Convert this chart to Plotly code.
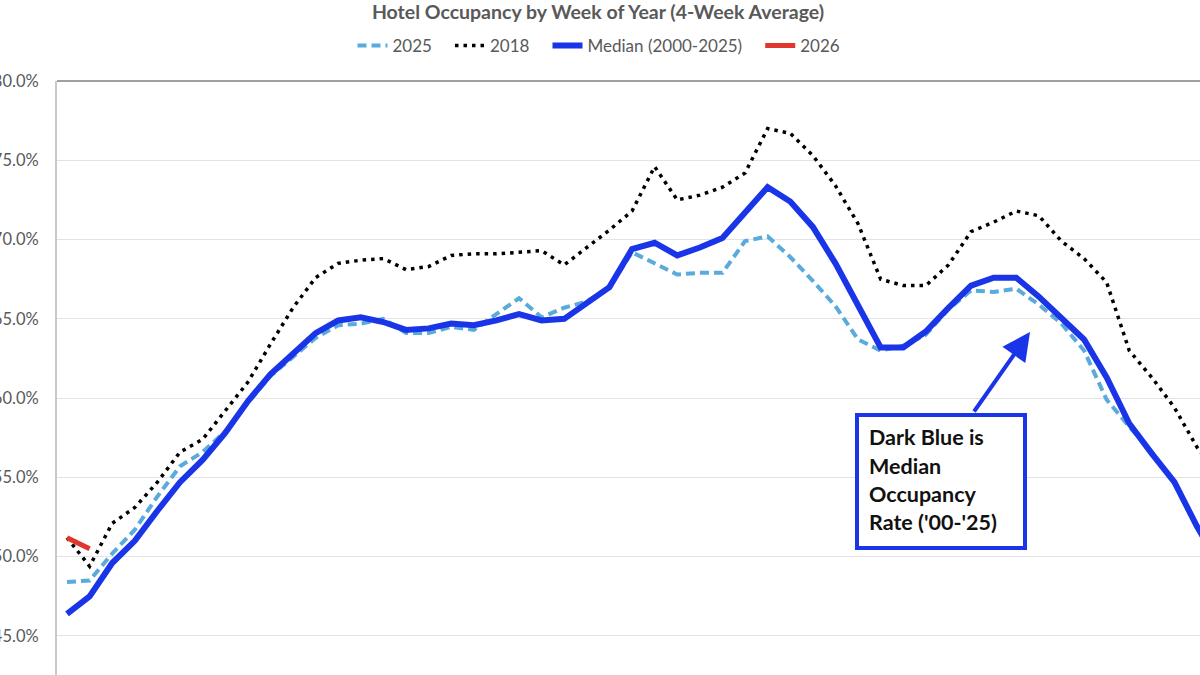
import plotly.graph_objects as go

weeks = list(range(1, 53))

occ_2025 = [48.4, 48.5, 50.2, 51.7, 53.8, 55.7, 56.6, 57.9, 59.7, 61.4,
            62.6, 63.8, 64.6, 64.7, 65.0, 64.1, 64.1, 64.5, 64.3, 65.3,
            66.3, 65.1, 65.7, 66.1, 67.0, 69.2, 68.5, 67.8, 67.9, 67.9,
            69.9, 70.2, 68.9, 67.4, 65.8, 63.7, 63.0, 63.3, 64.0, 65.6,
            66.8, 66.7, 66.9, 65.9, 64.7, 63.0, 59.9, 58.2, 56.6, 54.6,
            51.8, 49.4]

occ_2018 = [51.2, 49.4, 52.1, 53.1, 54.7, 56.6, 57.4, 59.2, 61.0, 63.4,
            65.7, 67.6, 68.5, 68.7, 68.8, 68.1, 68.3, 69.0, 69.1, 69.1,
            69.2, 69.3, 68.4, 69.5, 70.6, 71.8, 74.6, 72.5, 72.8, 73.3,
            74.2, 77.0, 76.7, 75.3, 73.4, 71.0, 67.5, 67.1, 67.1, 68.4,
            70.5, 71.1, 71.8, 71.5, 69.9, 68.8, 67.3, 63.0, 61.3, 59.4,
            56.9, 55.0]

occ_median = [46.4, 47.5, 49.6, 51.0, 52.9, 54.7, 56.1, 57.8, 59.8, 61.5,
              62.8, 64.1, 64.9, 65.1, 64.8, 64.3, 64.4, 64.7, 64.6, 64.9,
              65.3, 64.9, 65.0, 66.0, 67.0, 69.4, 69.8, 69.0, 69.5, 70.1,
              71.7, 73.3, 72.4, 70.8, 68.5, 65.9, 63.2, 63.2, 64.2, 65.7,
              67.1, 67.6, 67.6, 66.4, 65.1, 63.7, 61.3, 58.4, 56.5, 54.7,
              51.9, 49.5]

weeks_2026 = [1, 2]
occ_2026 = [51.2, 50.5]

y_ticks = [45, 50, 55, 60, 65, 70, 75, 80]

BLUE = "#1a35e8"
LIGHT = "#5aaadc"
RED = "#e0362c"
GRAY = "#595959"
FONT = "Lato"
PAD = "\u00a0\u00a0\u00a0"

fig = go.Figure()
fig.add_trace(go.Scatter(x=weeks, y=occ_2025, mode="lines", name="2025" + PAD,
                         line=dict(color=LIGHT, width=4, dash="9px,5px")))
fig.add_trace(go.Scatter(x=weeks, y=occ_2018, mode="lines", name="2018" + PAD,
                         line=dict(color="#000000", width=3.5, dash="3.5px,5px")))
fig.add_trace(go.Scatter(x=weeks, y=occ_median, mode="lines", name="Median (2000-2025)" + PAD,
                         line=dict(color=BLUE, width=6)))
fig.add_trace(go.Scatter(x=weeks_2026, y=occ_2026, mode="lines", name="2026",
                         line=dict(color=RED, width=5)))

W, H = 1200, 675
L, T = 57, 81

def px_x(p):
    return (p - L) / (W - L)

def px_y(p):
    return (H - p) / (H - T)

fig.update_layout(
    width=W, height=H,
    margin=dict(l=L, r=0, t=T, b=0, autoexpand=False),
    paper_bgcolor="white", plot_bgcolor="white",
    font=dict(family=FONT, color=GRAY),
    title=dict(text="<b>Hotel Occupancy by Week of Year (4-Week Average)</b>",
               x=598 / W, xref="container", xanchor="center",
               y=1 - 12 / H, yref="container", yanchor="middle",
               font=dict(size=19.5, color=GRAY, family=FONT)),
    legend=dict(orientation="h", x=599 / W, xref="container", xanchor="center",
                y=1 - 46 / H, yref="container", yanchor="middle",
                font=dict(size=17, color=GRAY, family=FONT),
                bgcolor="rgba(0,0,0,0)", itemwidth=30, tracegroupgap=0),
    showlegend=True,
    xaxis=dict(range=[0.5575, 51.13], showgrid=False, zeroline=False,
               showticklabels=False, ticks="", showline=False, fixedrange=True),
    yaxis=dict(range=[42.54, 80], tickvals=y_ticks,
               ticktext=[f"{v:.1f}%" for v in y_ticks],
               showgrid=True, gridcolor="#e3e3e3", gridwidth=1,
               zeroline=False, showline=True, linecolor="#c8c8c8", linewidth=2,
               ticks="", ticklabelstandoff=13, automargin=False,
               tickfont=dict(size=16.5, color=GRAY, family=FONT)),
)

# top border of plot area
fig.add_shape(type="line", xref="paper", yref="paper", x0=0, x1=1, y0=1, y1=1,
              line=dict(color="#a0a0a0", width=2), layer="above")

# annotation box
fig.add_shape(type="rect", xref="paper", yref="paper",
              x0=px_x(857), x1=px_x(1025), y0=px_y(548), y1=px_y(415),
              line=dict(color=BLUE, width=4), fillcolor="white", layer="above")

lines = ["Dark Blue is", "Median", "Occupancy", "Rate ('00-'25)"]
centers = [437, 465.5, 494, 522]
for txt, cy in zip(lines, centers):
    fig.add_annotation(text=f"<b>{txt}</b>", xref="paper", yref="paper",
                       x=px_x(867), y=px_y(cy), xanchor="left", yanchor="middle",
                       showarrow=False, font=dict(size=21.5, color="#111111", family=FONT))

# arrow
fig.add_annotation(text="", xref="paper", yref="paper",
                   x=px_x(1030), y=px_y(332), ax=973 - 1030, ay=413 - 332,
                   showarrow=True, arrowhead=2, arrowsize=1.4, arrowwidth=4,
                   arrowcolor=BLUE, standoff=0)

fig.write_html("out.html", config={"displayModeBar": False},
               post_script="document.body.style.margin='0';document.body.style.overflow='hidden';")
